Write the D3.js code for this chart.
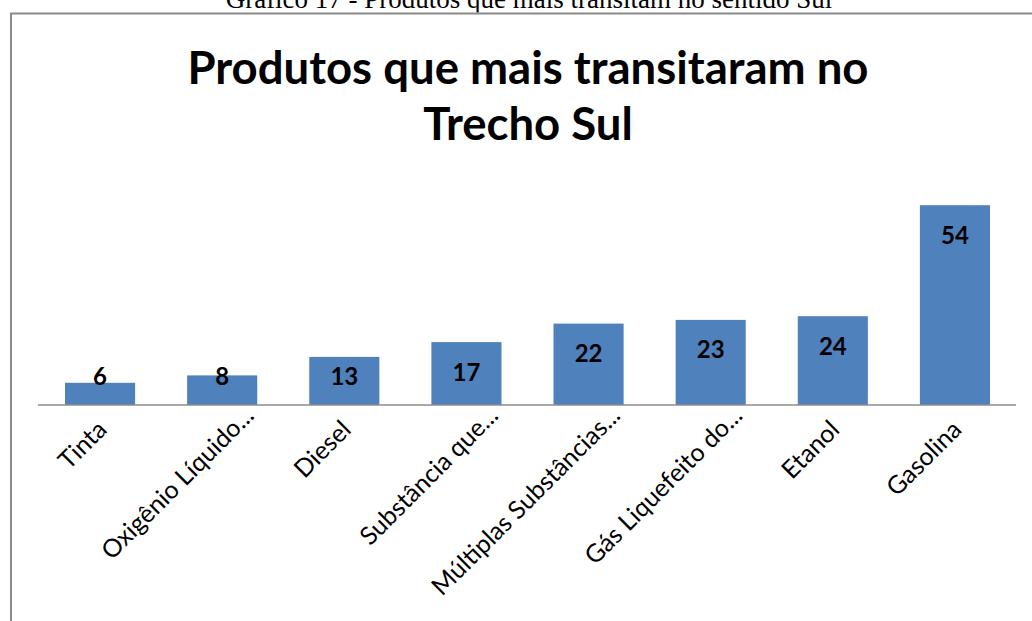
<!DOCTYPE html>
<html>
<head>
<meta charset="utf-8">
<script src="https://cdn.jsdelivr.net/npm/d3@7"></script>
<style>
  body { margin: 0; background: #fff; }
  svg { display: block; }
</style>
</head>
<body>
<div id="chart"></div>
<script>
// chart data
var categories = ["Tinta", "Oxigênio Líquido...", "Diesel", "Substância que...",
    "Múltiplas Substâncias...", "Gás Liquefeito do...", "Etanol", "Gasolina"];
var values = [6, 8, 13, 17, 22, 23, 24, 54];
var caption = "Gráfico 17 - Produtos que mais transitam no sentido Sul";
var titleLines = ["Produtos que mais transitaram no", "Trecho Sul"];

var W = 1032, H = 621;
var margin = { top: 183, left: 39, right: 16, baseline: 405 };

var svg = d3.select("#chart").append("svg")
    .attr("width", W)
    .attr("height", H);

// caption above the frame (mostly cut off in the original)
svg.append("text")
    .attr("x", 529)
    .attr("y", 8)
    .attr("text-anchor", "middle")
    .style("font-family", "'Liberation Serif', 'Times New Roman', serif")
    .style("font-size", "27px")
    .text(caption);

// chart frame
svg.append("rect")
    .attr("x", 0).attr("y", 12.5)
    .attr("width", W).attr("height", 3)
    .attr("fill", "#fff");
svg.append("path")
    .attr("d", "M11,621 V13.5 H1032")
    .attr("fill", "none")
    .attr("stroke", "#8a8a8a")
    .attr("stroke-width", 2);

// title
svg.selectAll(".title")
    .data(titleLines)
    .enter().append("text")
    .attr("class", "title")
    .attr("x", 528)
    .attr("y", function(d, i) { return 84 + i * 56; })
    .attr("text-anchor", "middle")
    .style("font-family", "Lato, 'Open Sans', sans-serif")
    .style("font-weight", "bold")
    .style("font-size", "45.5px")
    .text(function(d) { return d; });

var x = d3.scaleBand()
    .domain(categories)
    .range([margin.left, W - margin.right])
    .paddingInner(0.426)
    .paddingOuter(0.213);

var y = d3.scaleLinear()
    .domain([0, 60])
    .range([margin.baseline, margin.top]);

svg.selectAll(".bar")
    .data(values)
    .enter().append("rect")
    .attr("class", "bar")
    .attr("x", function(d, i) { return x(categories[i]); })
    .attr("width", x.bandwidth())
    .attr("y", function(d) { return y(d); })
    .attr("height", function(d) { return y(0) - y(d); })
    .style("fill", "#4F81BD");

// value labels, inside end
svg.selectAll(".val")
    .data(values)
    .enter().append("text")
    .attr("class", "val")
    .attr("x", function(d, i) { return x(categories[i]) + x.bandwidth() / 2; })
    .attr("y", function(d) { return Math.min(y(d) + 30, 377); })
    .attr("dy", "0.35em")
    .attr("text-anchor", "middle")
    .style("font-family", "Lato, 'Open Sans', sans-serif")
    .style("font-weight", "bold")
    .style("font-size", "24px")
    .text(function(d) { return d; });

// x axis
var xAxis = svg.append("g")
    .attr("transform", "translate(0," + margin.baseline + ")")
    .call(d3.axisBottom(x).tickSize(0).tickPadding(0));

xAxis.select(".domain")
    .attr("stroke", "#8c8c8c")
    .attr("stroke-width", 1.5)
    .attr("d", "M" + (margin.left - 1) + ",0H" + (W - margin.right));

// truncated labels sit a little further along the slant
xAxis.selectAll(".tick text")
    .attr("y", 0)
    .attr("dy", "0.35em")
    .attr("text-anchor", "end")
    .attr("transform", function(d) {
        var cut = /\.\.\.$/.test(d);
        return "translate(" + (cut ? 27 : 2) + "," + (cut ? 6 : 20) + ") rotate(-45)";
    })
    .style("font-family", "Lato, 'Open Sans', sans-serif")
    .style("font-size", "25px")
    .style("fill", "#000");
</script>
</body>
</html>
